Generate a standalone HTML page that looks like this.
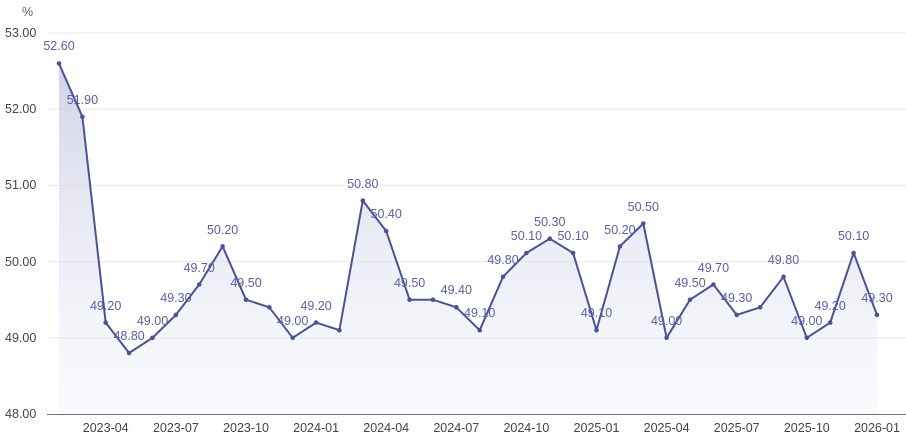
<!DOCTYPE html>
<html><head><meta charset="utf-8"><style>
html,body{margin:0;padding:0;background:#fff;}
svg{display:block;font-family:"Liberation Sans","Noto Sans CJK SC",sans-serif;}
</style></head><body>
<svg width="906" height="439" viewBox="0 0 906 439">
<defs><linearGradient id="g" x1="0" y1="0" x2="0" y2="1"><stop offset="0" stop-color="#c9cce3" stop-opacity="0.85"/><stop offset="1" stop-color="#eef0f8" stop-opacity="0.3"/></linearGradient></defs>
<g stroke="#e6e8f2" stroke-width="1">
<line x1="47" y1="33" x2="906" y2="33"/><line x1="47" y1="109.2" x2="906" y2="109.2"/><line x1="47" y1="185.4" x2="906" y2="185.4"/><line x1="47" y1="261.6" x2="906" y2="261.6"/><line x1="47" y1="337.8" x2="906" y2="337.8"/>
</g>
<line x1="47" y1="414.5" x2="906" y2="414.5" stroke="#6e7079" stroke-width="1"/>
<g fill="#444" font-size="12.5">
<text x="22" y="16" fill="#666">%</text>
<text x="5" y="37">53.00</text><text x="5" y="113">52.00</text><text x="5" y="189">51.00</text><text x="5" y="266">50.00</text><text x="5" y="342">49.00</text><text x="5" y="418">48.00</text>
</g>
<g fill="#444" font-size="12.5" text-anchor="middle">
<text x="105.7" y="432">2023-04</text><text x="175.9" y="432">2023-07</text><text x="246" y="432">2023-10</text><text x="316.1" y="432">2024-01</text><text x="386.2" y="432">2024-04</text><text x="456.3" y="432">2024-07</text><text x="526.4" y="432">2024-10</text><text x="596.5" y="432">2025-01</text><text x="666.6" y="432">2025-04</text><text x="736.7" y="432">2025-07</text><text x="806.8" y="432">2025-10</text><text x="877" y="432">2026-01</text>
</g>
<path d="M59,63.5 L82.4,116.8 L105.7,322.6 L129.1,353 L152.5,337.8 L175.9,314.9 L199.2,284.5 L222.6,246.4 L246,299.7 L269.3,307.3 L292.7,337.8 L316.1,322.6 L339.4,330.2 L362.8,200.6 L386.2,231.1 L409.6,299.7 L432.9,299.7 L456.3,307.3 L479.7,330.2 L503,276.8 L526.4,253 L549.8,238.7 L573.1,253 L596.5,330.2 L619.9,246.4 L643.3,223.5 L666.6,337.8 L690,299.7 L713.4,284.5 L736.7,314.9 L760.1,307.3 L783.5,276.8 L806.8,337.8 L830.2,322.6 L853.6,253 L877,314.9 L877,414 L59,414 Z" fill="url(#g)"/>
<polyline fill="none" stroke="#4a5297" stroke-width="2" stroke-linejoin="round" points="59,63.5 82.4,116.8 105.7,322.6 129.1,353 152.5,337.8 175.9,314.9 199.2,284.5 222.6,246.4 246,299.7 269.3,307.3 292.7,337.8 316.1,322.6 339.4,330.2 362.8,200.6 386.2,231.1 409.6,299.7 432.9,299.7 456.3,307.3 479.7,330.2 503,276.8 526.4,253 549.8,238.7 573.1,253 596.5,330.2 619.9,246.4 643.3,223.5 666.6,337.8 690,299.7 713.4,284.5 736.7,314.9 760.1,307.3 783.5,276.8 806.8,337.8 830.2,322.6 853.6,253 877,314.9"/>
<g fill="#4a5297">
<circle cx="59" cy="63.5" r="2.3"/><circle cx="82.4" cy="116.8" r="2.3"/><circle cx="105.7" cy="322.6" r="2.3"/><circle cx="129.1" cy="353" r="2.3"/><circle cx="152.5" cy="337.8" r="2.3"/><circle cx="175.9" cy="314.9" r="2.3"/><circle cx="199.2" cy="284.5" r="2.3"/><circle cx="222.6" cy="246.4" r="2.3"/><circle cx="246" cy="299.7" r="2.3"/><circle cx="269.3" cy="307.3" r="2.3"/><circle cx="292.7" cy="337.8" r="2.3"/><circle cx="316.1" cy="322.6" r="2.3"/><circle cx="339.4" cy="330.2" r="2.3"/><circle cx="362.8" cy="200.6" r="2.3"/><circle cx="386.2" cy="231.1" r="2.3"/><circle cx="409.6" cy="299.7" r="2.3"/><circle cx="432.9" cy="299.7" r="2.3"/><circle cx="456.3" cy="307.3" r="2.3"/><circle cx="479.7" cy="330.2" r="2.3"/><circle cx="503" cy="276.8" r="2.3"/><circle cx="526.4" cy="253" r="2.3"/><circle cx="549.8" cy="238.7" r="2.3"/><circle cx="573.1" cy="253" r="2.3"/><circle cx="596.5" cy="330.2" r="2.3"/><circle cx="619.9" cy="246.4" r="2.3"/><circle cx="643.3" cy="223.5" r="2.3"/><circle cx="666.6" cy="337.8" r="2.3"/><circle cx="690" cy="299.7" r="2.3"/><circle cx="713.4" cy="284.5" r="2.3"/><circle cx="736.7" cy="314.9" r="2.3"/><circle cx="760.1" cy="307.3" r="2.3"/><circle cx="783.5" cy="276.8" r="2.3"/><circle cx="806.8" cy="337.8" r="2.3"/><circle cx="830.2" cy="322.6" r="2.3"/><circle cx="853.6" cy="253" r="2.3"/><circle cx="877" cy="314.9" r="2.3"/>
</g>
<g fill="#5a60a6" font-size="12.5" text-anchor="middle">
<text x="59" y="50">52.60</text><text x="82.4" y="104">51.90</text><text x="105.7" y="310">49.20</text><text x="129.1" y="340">48.80</text><text x="152.5" y="325">49.00</text><text x="175.9" y="302">49.30</text><text x="199.2" y="272">49.70</text><text x="222.6" y="234">50.20</text><text x="246" y="287">49.50</text><text x="292.7" y="325">49.00</text><text x="316.1" y="310">49.20</text><text x="362.8" y="188">50.80</text><text x="386.2" y="218">50.40</text><text x="409.6" y="287">49.50</text><text x="456.3" y="294">49.40</text><text x="479.7" y="317">49.10</text><text x="503" y="264">49.80</text><text x="526.4" y="240">50.10</text><text x="549.8" y="226">50.30</text><text x="573.1" y="240">50.10</text><text x="596.5" y="317">49.10</text><text x="619.9" y="234">50.20</text><text x="643.3" y="211">50.50</text><text x="666.6" y="325">49.00</text><text x="690" y="287">49.50</text><text x="713.4" y="272">49.70</text><text x="736.7" y="302">49.30</text><text x="783.5" y="264">49.80</text><text x="806.8" y="325">49.00</text><text x="830.2" y="310">49.20</text><text x="853.6" y="240">50.10</text><text x="877" y="302">49.30</text>
</g>
</svg>
</body></html>
